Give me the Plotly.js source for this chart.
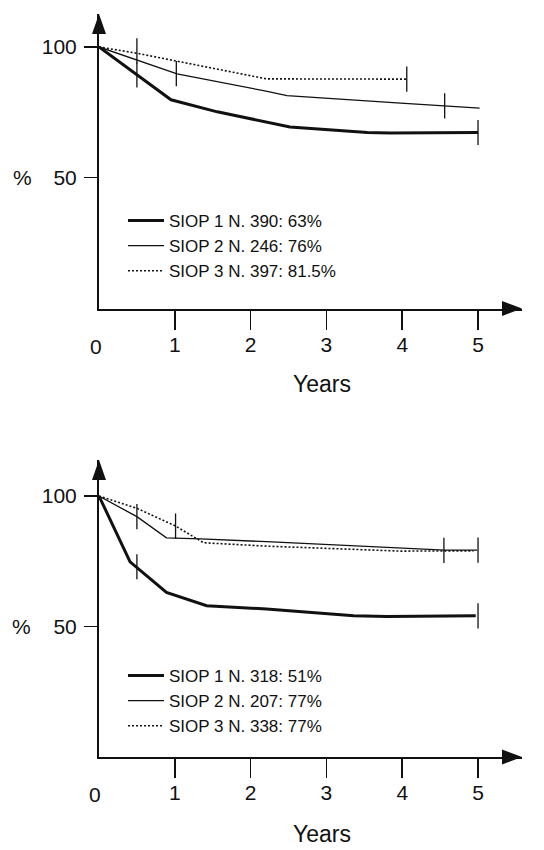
<!DOCTYPE html>
<html>
<head>
<meta charset="utf-8">
<script src="https://cdn.plot.ly/plotly-3.0.1.min.js"></script>
<style>html,body{margin:0;padding:0;background:#fff;}#chart{width:544px;height:850px;}</style>
</head>
<body>
<div id="chart"></div>
<script>
// ---------- DATA ----------
var seriesNamesTop = ['SIOP 1 N. 390: 63%', 'SIOP 2 N. 246: 76%', 'SIOP 3 N. 397: 81.5%'];
var seriesNamesBot = ['SIOP 1 N. 318: 51%', 'SIOP 2 N. 207: 77%', 'SIOP 3 N. 338: 77%'];

// top panel
var yearsTop1 = [0, 0.5, 0.95, 1.56, 2.21, 2.52, 3.54, 3.84, 5.0];
var survTop1  = [100, 89.3, 79.8, 75.2, 71.3, 69.4, 67.3, 67.1, 67.3];
var yearsTop2 = [0, 1.03, 2.17, 2.48, 3.98, 4.55, 5.02];
var survTop2  = [100, 89.7, 83.3, 81.4, 78.5, 77.5, 76.6];
var yearsTop3 = [0, 0.5, 2.21, 4.06];
var survTop3  = [100, 97.6, 87.8, 87.7];
var censTop1X = [0.5, 5.0],  censTop1Y = [89.3, 67.3];
var censTop2X = [1.02, 4.56], censTop2Y = [89.8, 77.5];
var censTop3X = [0.5, 4.06], censTop3Y = [98.5, 87.7];

// bottom panel
var yearsBot1 = [0, 0.41, 0.89, 1.42, 2.21, 3.36, 3.8, 4.97];
var survBot1  = [100, 74.8, 63.1, 58.0, 56.7, 54.1, 53.8, 54.1];
var yearsBot2 = [0, 0.5, 0.89, 1.34, 2.21, 3.75, 4.56, 4.99];
var survBot2  = [100, 92.1, 84.0, 83.6, 82.5, 80.3, 79.3, 79.3];
var yearsBot3 = [0, 0.5, 1.01, 1.38, 2.21, 3.98, 4.94];
var survBot3  = [100, 95.3, 88.5, 82.1, 80.8, 78.9, 79.0];
var censBot1X = [0.5, 5.0],  censBot1Y = [72.9, 54.1];
var censBot2X = [0.5, 5.0],  censBot2Y = [92.1, 79.3];
var censBot3X = [1.01, 4.55], censBot3Y = [88.5, 79.2];

var xTickVals = [1, 2, 3, 4, 5];
var yTickVals = [50, 100];
var xTitle = 'Years';
var yTitle = '%';
var originLabel = '0';

// ---------- STYLE ----------
var FONT = 'Liberation Sans, Arial, Helvetica, sans-serif';
var INK = '#111';
var lineStyles = [
  {color: INK, width: 3},
  {color: INK, width: 1.3},
  {color: INK, width: 1.6, dash: '2px,2px'}
];

function curve(x, y, name, i, xa, ya, leg) {
  return {x: x, y: y, name: name, type: 'scatter', mode: 'lines',
    line: lineStyles[i], xaxis: xa, yaxis: ya, legend: leg, hoverinfo: 'skip'};
}
function cens(x, y, xa, ya) {
  return {x: x, y: y, type: 'scatter', mode: 'markers', showlegend: false,
    marker: {symbol: 'line-ns', size: 18, line: {color: INK, width: 1.3}},
    xaxis: xa, yaxis: ya, hoverinfo: 'skip'};
}

var data = [
  curve(yearsTop1, survTop1, seriesNamesTop[0], 0, 'x', 'y', 'legend'),
  curve(yearsTop2, survTop2, seriesNamesTop[1], 1, 'x', 'y', 'legend'),
  curve(yearsTop3, survTop3, seriesNamesTop[2], 2, 'x', 'y', 'legend'),
  cens(censTop1X, censTop1Y, 'x', 'y'),
  cens(censTop2X, censTop2Y, 'x', 'y'),
  cens(censTop3X, censTop3Y, 'x', 'y'),
  curve(yearsBot1, survBot1, seriesNamesBot[0], 0, 'x2', 'y2', 'legend2'),
  curve(yearsBot2, survBot2, seriesNamesBot[1], 1, 'x2', 'y2', 'legend2'),
  curve(yearsBot3, survBot3, seriesNamesBot[2], 2, 'x2', 'y2', 'legend2'),
  cens(censBot1X, censBot1Y, 'x2', 'y2'),
  cens(censBot2X, censBot2Y, 'x2', 'y2'),
  cens(censBot3X, censBot3Y, 'x2', 'y2')
];

var XMAX = 5.58, YMAX_TOP = 112.6, YMAX_BOT = 113.8;
var TOP_DOM = [0.6036, 1], BOT_DOM = [0, 0.3997];

function xAxis(anchor) {
  return {anchor: anchor, domain: [0, 1], range: [0, XMAX], tickvals: xTickVals,
    showline: true, linewidth: 2, linecolor: INK, ticks: 'outside', ticklen: 19,
    tickwidth: 1.5, tickcolor: INK, showgrid: false, zeroline: false,
    tickfont: {family: FONT, size: 21, color: INK}, ticklabelstandoff: -3, fixedrange: true};
}
function yAxis(anchor, dom, top) {
  return {anchor: anchor, domain: dom, range: [0, top], tickvals: yTickVals,
    showline: true, linewidth: 2, linecolor: INK, ticks: 'outside', ticklen: 13,
    tickwidth: 1.5, tickcolor: INK, showgrid: false, zeroline: false,
    tickfont: {family: FONT, size: 21, color: INK}, ticklabelstandoff: 3, fixedrange: true};
}

function upArrow(yTop) {
  return {type: 'path', xref: 'paper', yref: 'paper', xsizemode: 'pixel', ysizemode: 'pixel',
    xanchor: 0, yanchor: yTop, path: 'M-7,-20 L7,-20 L0,0 Z',
    fillcolor: INK, line: {width: 0}};
}
function rightArrow(yBase) {
  return {type: 'path', xref: 'paper', yref: 'paper', xsizemode: 'pixel', ysizemode: 'pixel',
    xanchor: 1, yanchor: yBase, path: 'M-20,-7.5 L-20,7.5 L0,0 Z',
    fillcolor: INK, line: {width: 0}};
}

var ann = function (text, xr, x, yr, y, ya, size) {
  return {text: text, xref: xr, x: x, yref: yr, y: y, showarrow: false,
    font: {family: FONT, size: size || 21, color: INK}, xanchor: 'center', yanchor: ya || 'middle'};
};

var legendStyle = function (y) {
  return {x: 0.0567, xanchor: 'left', y: y, yanchor: 'top', itemwidth: 36,
    bgcolor: 'rgba(0,0,0,0)', font: {family: FONT, size: 17, color: INK},
    tracegroupgap: 0};
};

var layout = {
  width: 544, height: 850,
  margin: {l: 99, r: 22, t: 14, b: 93, pad: 0},
  paper_bgcolor: '#fff', plot_bgcolor: 'rgba(0,0,0,0)',
  font: {family: FONT, color: INK},
  xaxis: xAxis('y'),
  yaxis: yAxis('x', TOP_DOM, YMAX_TOP),
  xaxis2: xAxis('y2'),
  yaxis2: yAxis('x2', BOT_DOM, YMAX_BOT),
  legend: legendStyle(0.7456),
  legend2: legendStyle(0.1332),
  shapes: [upArrow(TOP_DOM[1]), rightArrow(TOP_DOM[0]),
           upArrow(BOT_DOM[1]), rightArrow(BOT_DOM[0])],
  annotations: [
    ann(yTitle, 'paper', -0.182, 'y', 50),
    ann(yTitle, 'paper', -0.184, 'y2', 50),
    ann(originLabel, 'paper', -0.008, 'paper', (757 - 346) / 743),
    ann(originLabel, 'paper', -0.01, 'paper', (757 - 794) / 743),
    ann(xTitle, 'paper', 0.527, 'paper', (757 - 384) / 743, 'middle', 23),
    ann(xTitle, 'paper', 0.527, 'paper', (757 - 849) / 743, 'bottom', 23)
  ]
};

Plotly.newPlot('chart', data, layout, {staticPlot: true, displayModeBar: false});
</script>
</body>
</html>
